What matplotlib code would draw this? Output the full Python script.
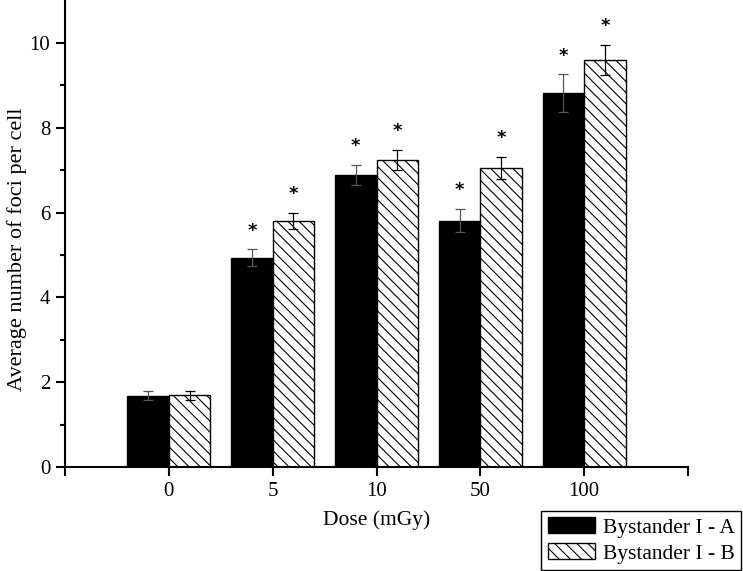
import numpy as np
import matplotlib
matplotlib.use('Agg')
import matplotlib.pyplot as plt

# Data
doses = ['0', '5', '10', '50', '100']
group_a = [1.68, 4.93, 6.89, 5.81, 8.81]
err_a = [0.10, 0.20, 0.24, 0.27, 0.45]
group_b = [1.69, 5.80, 7.24, 7.05, 9.60]
err_b = [0.10, 0.19, 0.23, 0.27, 0.36]
sig_a = [False, True, True, True, True]
sig_b = [False, True, True, True, True]

plt.rcParams['font.family'] = ['Liberation Serif', 'DejaVu Serif']
plt.rcParams['hatch.linewidth'] = 0.8

fig = plt.figure(figsize=(7.43, 5.71), dpi=100)
ax = fig.add_axes([65/743, 104/571, 623/743, 467/571])

x = np.arange(len(doses))
w = 0.4

ax.bar(x - w/2, group_a, w, color='black', edgecolor='black', linewidth=1,
       label='Bystander I - A', zorder=2)
ax.bar(x + w/2, group_b, w, color='white', edgecolor='black', linewidth=1,
       hatch='\\\\\\', label='Bystander I - B', zorder=2)
ax.errorbar(x - w/2, group_a, yerr=err_a, fmt='none', ecolor='#555555',
            elinewidth=0.9, capsize=3.5, capthick=0.9, zorder=3)
ax.errorbar(x + w/2, group_b, yerr=err_b, fmt='none', ecolor='black',
            elinewidth=0.9, capsize=3.5, capthick=0.9, zorder=3)

# significance stars
for i in range(len(doses)):
    if sig_a[i]:
        ax.text(x[i] - w/2, group_a[i] + err_a[i] + 0.44, '*', ha='center',
                va='center', fontsize=13, fontweight='bold', family='DejaVu Sans')
    if sig_b[i]:
        ax.text(x[i] + w/2, group_b[i] + err_b[i] + 0.44, '*', ha='center',
                va='center', fontsize=13, fontweight='bold', family='DejaVu Sans')

ax.set_xlim(-1, 5)
ax.set_ylim(0, 11.01)
ax.set_xticks(np.arange(-1, 6))
ax.set_xticklabels([''] + doses + [''])
ax.set_yticks([0, 2, 4, 6, 8, 10])
ax.set_yticks([1, 3, 5, 7, 9], minor=True)

for s in ['top', 'right']:
    ax.spines[s].set_visible(False)
for s in ['left', 'bottom']:
    ax.spines[s].set_linewidth(1.5)

ax.tick_params(axis='both', which='major', direction='out', length=6.5,
               width=1.5, labelsize=15, pad=4)
ax.tick_params(axis='y', which='minor', direction='out', length=3.5, width=1.5)

ax.set_xlabel('Dose (mGy)', fontsize=15.5, labelpad=7)
ax.set_ylabel('Average number of foci per cell', fontsize=16)
ax.yaxis.set_label_coords(-0.061, 0.467)

fig.legend(loc='lower right', bbox_to_anchor=(741/743, 1/571),
           fontsize=15.5, frameon=True, fancybox=False, edgecolor='black',
           framealpha=1, borderaxespad=0, handlelength=2.2, handleheight=0.75,
           handletextpad=0.35, labelspacing=0.25, borderpad=0.3)
fig.legends[0].get_frame().set_linewidth(1)

fig.savefig('out.png', dpi=100)
